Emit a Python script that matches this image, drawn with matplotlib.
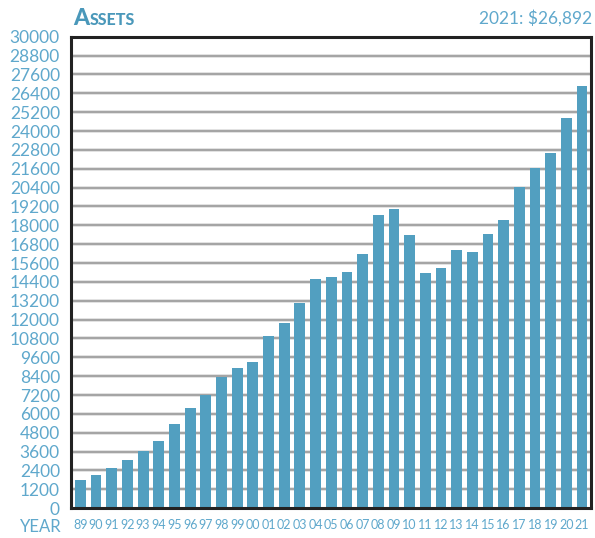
import matplotlib
matplotlib.use("Agg")
import matplotlib.pyplot as plt
import numpy as np

years = ["89", "90", "91", "92", "93", "94", "95", "96", "97", "98", "99", "00",
         "01", "02", "03", "04", "05", "06", "07", "08", "09", "10", "11", "12",
         "13", "14", "15", "16", "17", "18", "19", "20", "21"]
assets = [1790, 2110, 2580, 3070, 3640, 4280, 5360, 6380, 7200, 8370, 8920, 9300,
          10950, 11780, 13050, 14580, 14710, 15030, 16170, 18650, 19030, 17380, 14960, 15280,
          16430, 16300, 17440, 18330, 20430, 21650, 22600, 24830, 26892]
yticks = list(range(0, 30001, 1200))

title_big = "A"
title_small = "SSETS"
header_right = "2021: $26,892"
xlabel = "YEAR"

bar_color = "#529fc0"
text_color = "#5fa8cc"
title_color = "#4a98ba"
narrow = ["Lato", "DejaVu Sans"]
regular = ["Lato", "DejaVu Sans"]

fig = plt.figure(figsize=(5.95, 5.38), dpi=100)
ax = fig.add_axes([71/595, 1 - 508.2/538, (590.7 - 71)/595, (508.2 - 36.7)/538])

x = np.arange(len(years))
ax.bar(x, assets, width=0.69, color=bar_color, zorder=3)
ax.set_xlim(-0.6, len(years) - 0.45)
ax.set_ylim(0, 30000)
ax.set_yticks(yticks)
ax.set_yticklabels([str(v) for v in yticks], family=regular, fontsize=12.5, color=text_color)
ax.set_xticks(x)
ax.set_xticklabels(years, family=narrow, fontsize=9, color=text_color)
ax.tick_params(axis="both", length=0)
ax.tick_params(axis="y", pad=8)
ax.tick_params(axis="x", pad=8)
for v in yticks[1:-1]:
    ax.axhline(v, color="#dcdcdc", lw=2.6, zorder=1)
    ax.axhline(v, color="#9a9a9a", lw=1.2, zorder=2)
for s in ax.spines.values():
    s.set_color("#222222")
    s.set_linewidth(2.2)
    s.set_zorder(5)

fig.text(62/595, 1 - 527/538, xlabel, ha="right", va="center", family=regular,
         fontsize=12, color=text_color)
fig.text(592/595, 1 - 18/538, header_right, ha="right", va="center", family=regular,
         fontsize=12.5, color=text_color)

tb = fig.text(73/595, 1 - 25/538, title_big, ha="left", va="baseline",
              family=narrow, fontsize=16.5, fontweight="black", color=title_color)
fig.canvas.draw()
bb = tb.get_window_extent()
x1 = bb.x1 / fig.bbox.width
fig.text(x1 + 0.3/595, 1 - 25/538, title_small, ha="left", va="baseline",
         family=narrow, fontsize=11.5, fontweight="black", color=title_color)

fig.savefig("out.png", dpi=100)
